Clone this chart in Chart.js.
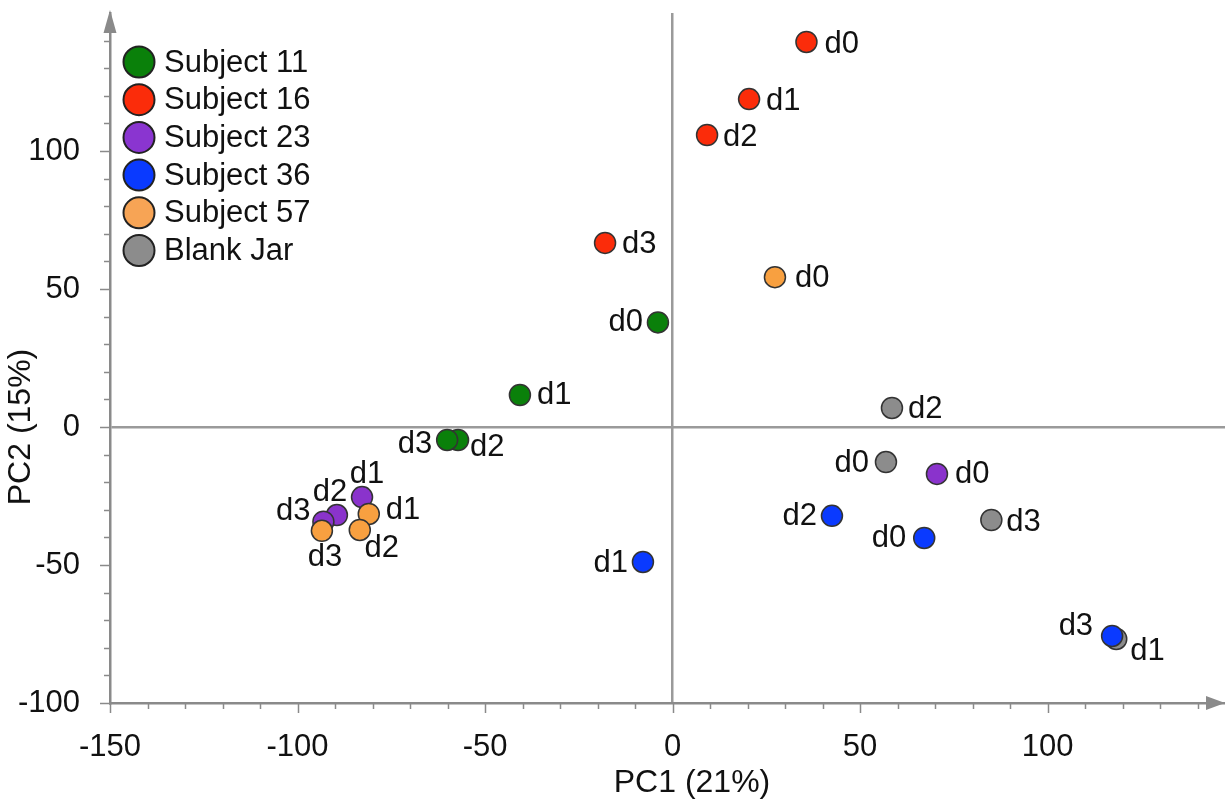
<!DOCTYPE html>
<html><head><meta charset="utf-8">
<script src="https://cdn.jsdelivr.net/npm/chart.js@4/dist/chart.umd.min.js"></script>
<style>html,body{margin:0;padding:0;background:#fff;overflow:hidden}#wrap{width:1225px;height:802px}</style>
</head><body><div id="wrap"><canvas id="c" width="1225" height="802"></canvas></div>
<script>
// ---- data ----
const seriesNames = ['Subject 11', 'Subject 16', 'Subject 23', 'Subject 36', 'Subject 57', 'Blank Jar'];
const dayLabels = ['d0', 'd1', 'd2', 'd3'];
const subject11PC1 = [-3.9, -40.7, -57.2, -60.1];
const subject11PC2 = [37.9, 11.6, -4.7, -4.7];
const subject16PC1 = [35.7, 20.4, 9.2, -18.0];
const subject16PC2 = [139.5, 118.8, 105.8, 66.7];
const subject23PC1 = [70.5, -82.8, -89.5, -93.1];
const subject23PC2 = [-17.0, -25.4, -31.9, -34.3];
const subject36PC1 = [67.1, -7.9, 42.5, 117.2];
const subject36PC2 = [-40.2, -48.9, -32.2, -75.7];
const subject57PC1 = [27.3, -81.0, -83.4, -93.5];
const subject57PC2 = [54.3, -31.5, -37.3, -37.6];
const blankJarPC1 = [56.9, 118.3, 58.5, 85.0];
const blankJarPC2 = [-12.7, -76.8, 6.9, -33.7];
const xTickLabels = [-150, -100, -50, 0, 50, 100];
const yTickLabels = [-100, -50, 0, 50, 100];
const xTitle = 'PC1 (21%)';
const yTitle = 'PC2 (15%)';

// ---- style ----
const FONT = "'Liberation Sans', Arial, Helvetica, sans-serif";
const colors = ['#0a800a', '#fb2c0a', '#8a33cc', '#0a3aff', '#f8a040', '#8c8c8c'];
const legendColors = ['#0a800a', '#fb2c0a', '#8a35d0', '#0a3aff', '#f7a455', '#8c8c8c'];
const drawOrder = [0, 0, 0, 0, -1, 0];
// label placement per point: [dx, dy, align]
const labelPlacement = [
  [[-15, 0, 'right'], [17, 0, 'left'], [12, 7, 'left'], [-15, 4, 'right']],
  [[18, 2, 'left'], [17, 2, 'left'], [16, 2, 'left'], [17, 2, 'left']],
  [[18, 1, 'left'], [5, -23, 'center'], [-7, -23, 'center'], [-13, -10, 'right']],
  [[-18, 1, 'right'], [-15, 1, 'right'], [-15, 1, 'right'], [-19, -9, 'right']],
  [[20, 1, 'left'], [17, -3, 'left'], [22, 19, 'center'], [3, 27, 'center']],
  [[-17, 1, 'right'], [14, 12, 'left'], [16, 1, 'left'], [15, 2, 'left']]
];

function pts(xs, ys) { return xs.map((x, i) => ({ x: x, y: ys[i] })); }
const seriesData = [
  pts(subject11PC1, subject11PC2), pts(subject16PC1, subject16PC2),
  pts(subject23PC1, subject23PC2), pts(subject36PC1, subject36PC2),
  pts(subject57PC1, subject57PC2), pts(blankJarPC1, blankJarPC2)
];

const AXIS = '#8a8a8a';

const decor = {
  id: 'decor',
  beforeDatasetsDraw(chart) {
    const ctx = chart.ctx, xs = chart.scales.x, ys = chart.scales.y, a = chart.chartArea;
    ctx.save();
    ctx.strokeStyle = AXIS;
    ctx.lineWidth = 1.5;
    xs.ticks.forEach(t => {
      if (t.value > 140) return;
      const px = Math.round(xs.getPixelForValue(t.value)) + 0.5;
      const len = t.value % 50 === 0 ? 10 : 6;
      ctx.beginPath(); ctx.moveTo(px, a.bottom); ctx.lineTo(px, a.bottom + len); ctx.stroke();
    });
    ys.ticks.forEach(t => {
      if (t.value > 140) return;
      const py = Math.round(ys.getPixelForValue(t.value)) + 0.5;
      const len = t.value % 50 === 0 ? 10 : 6;
      ctx.beginPath(); ctx.moveTo(a.left, py); ctx.lineTo(a.left - len, py); ctx.stroke();
    });
    // arrowheads
    ctx.fillStyle = AXIS;
    ctx.beginPath();
    ctx.moveTo(a.left - 6.5, a.top + 20); ctx.lineTo(a.left + 6.5, a.top + 20); ctx.lineTo(a.left, a.top - 3); ctx.closePath(); ctx.fill();
    ctx.beginPath();
    ctx.moveTo(a.right - 19, a.bottom - 7); ctx.lineTo(a.right - 19, a.bottom + 7); ctx.lineTo(a.right, a.bottom); ctx.closePath(); ctx.fill();
    // axis titles
    ctx.fillStyle = '#111';
    ctx.font = '32px ' + FONT;
    ctx.textAlign = 'center'; ctx.textBaseline = 'middle';
    ctx.fillText(xTitle, 692, 783);
    ctx.save();
    ctx.translate(21, 427); ctx.rotate(-Math.PI / 2);
    ctx.fillText(yTitle, 0, 0);
    ctx.restore();
    ctx.restore();
  },
  afterDatasetsDraw(chart) {
    const ctx = chart.ctx;
    ctx.save();
    ctx.fillStyle = '#111';
    ctx.font = '31px ' + FONT;
    ctx.textBaseline = 'middle';
    chart.data.datasets.forEach((ds, di) => {
      const meta = chart.getDatasetMeta(di);
      meta.data.forEach((el, i) => {
        const p = labelPlacement[di][i];
        ctx.textAlign = p[2];
        ctx.fillText(dayLabels[i], el.x + p[0], el.y + p[1]);
      });
    });
    // legend
    chart.data.datasets.forEach((ds, di) => {
      const cy = 62 + di * 37.7;
      ctx.beginPath();
      ctx.arc(139, cy, 15.5, 0, Math.PI * 2);
      ctx.fillStyle = legendColors[di];
      ctx.fill();
      ctx.lineWidth = 2; ctx.strokeStyle = '#222'; ctx.stroke();
      ctx.fillStyle = '#111';
      ctx.textAlign = 'left';
      ctx.fillText(ds.label, 164, cy + 1);
    });
    ctx.restore();
  }
};

new Chart(document.getElementById('c'), {
  type: 'scatter',
  data: {
    datasets: seriesNames.map((name, i) => ({
      label: name,
      data: seriesData[i],
      backgroundColor: colors[i],
      borderColor: '#333',
      borderWidth: 1.5,
      pointRadius: 10.5,
      pointHoverRadius: 10.5,
      order: drawOrder[i]
    }))
  },
  options: {
    responsive: false,
    animation: false,
    devicePixelRatio: 1,
    layout: { autoPadding: false, padding: { top: 13, right: 0, left: 0, bottom: 0 } },
    plugins: { legend: { display: false }, tooltip: { enabled: false } },
    scales: {
      x: {
        type: 'linear', min: -150, max: 147.3,
        afterFit: s => { s.height = 99; s.paddingLeft = 0; s.paddingRight = 0; },
        border: { color: AXIS, width: 2.5 },
        grid: {
          drawTicks: false,
          color: c => (c.tick && c.tick.value === 0) ? '#9a9a9a' : 'rgba(0,0,0,0)',
          lineWidth: 2.5
        },
        ticks: {
          stepSize: 10, includeBounds: false, autoSkip: false, maxRotation: 0,
          padding: 26, color: '#111', font: { size: 31, family: FONT },
          callback: v => xTickLabels.includes(v) ? String(v) : ''
        }
      },
      y: {
        type: 'linear', min: -100, max: 150,
        afterFit: s => { s.width = 110; s.paddingTop = 0; s.paddingBottom = 0; },
        border: { color: AXIS, width: 2.5 },
        grid: {
          drawTicks: false,
          color: c => (c.tick && c.tick.value === 0) ? '#9a9a9a' : 'rgba(0,0,0,0)',
          lineWidth: 2.5
        },
        ticks: {
          stepSize: 10, includeBounds: false, autoSkip: false,
          padding: 30, color: '#111', font: { size: 31, family: FONT },
          callback: v => yTickLabels.includes(v) ? String(v) : ''
        }
      }
    }
  },
  plugins: [decor]
});
</script></body></html>
